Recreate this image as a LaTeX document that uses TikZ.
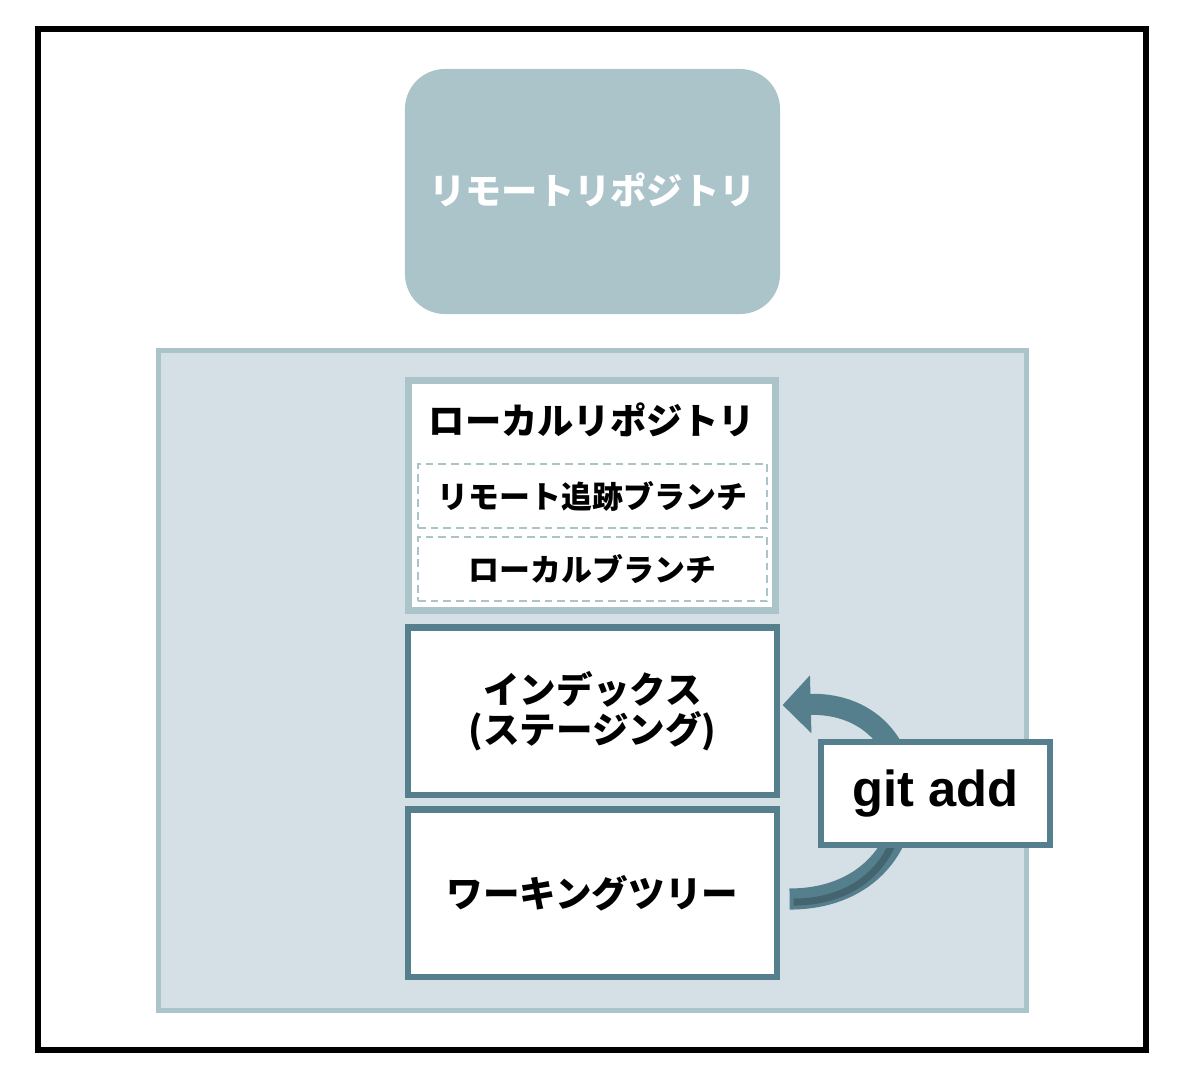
\documentclass[tikz,border=0pt]{standalone}
\usepackage{fontspec}
\usetikzlibrary{arrows.meta,calc}
\newfontfamily\jp{Noto Sans CJK JP}
\newfontfamily\lat{Liberation Sans}
\definecolor{remotefill}{HTML}{AAC4CA}
\definecolor{areafill}{HTML}{D4E0E5}
\definecolor{dark}{HTML}{557F8C}
\definecolor{darker}{HTML}{44656F}
\begin{document}
\begin{tikzpicture}[x=0.025cm,y=-0.025cm,
  remotebox/.style={fill=remotefill,draw=none,rounded corners=1cm,minimum width=9.375cm,minimum height=6.125cm,inner sep=0pt},
  areabox/.style={fill=areafill,draw=remotefill,line width=3.6pt,minimum width=21.675cm,minimum height=16.475cm,inner sep=0pt},
  repobox/.style={fill=white,draw=remotefill,line width=5pt,minimum width=9.15cm,minimum height=5.725cm,inner sep=0pt},
  dashbox/.style={draw=remotefill,dash pattern=on 5.5pt off 3.5pt,line width=1pt,minimum width=8.725cm,minimum height=1.6cm,inner sep=0pt,font=\jp\bfseries\fontsize{22}{24}\selectfont},
  workbox/.style={fill=white,draw=dark,line width=4.3pt,minimum width=9.2cm,minimum height=4.175cm,inner sep=0pt,align=center,font=\jp\bfseries\fontsize{26}{28.5}\selectfont},
  cmdbox/.style={fill=white,draw=dark,line width=4.3pt,minimum width=5.725cm,minimum height=2.575cm,inner sep=0pt,font=\lat\bfseries\fontsize{36}{40}\selectfont},
  flow/.style={draw=dark,line width=15pt,-{Triangle[length=20pt,width=40pt]}}
]
\useasboundingbox (0,0) rectangle (1182,1080);
\draw[line width=3.6pt,black] (38,29) rectangle (1146,1050);

\node[remotebox] (remote) at (592.5,191.5) {};
\node[text=white,font=\jp\bfseries\fontsize{25.8}{28}\selectfont] (remotet) at (592.5,190) {リモートリポジトリ};

\node[areabox] (area) at (592.5,680.5) {};

\node[repobox] (repo) at (592,495.5) {};
\node[font=\jp\bfseries\fontsize{25.8}{28}\selectfont] (repot) at (592,420) {ローカルリポジトリ};
\node[dashbox] (track) at (592.5,496) {リモート追跡ブランチ};
\node[dashbox] (lbranch) at (592.5,569) {ローカルブランチ};

\node[workbox] (idx) at (592.5,711) {インデックス\\(ステージング)};
\node[workbox] (wt) at (592.5,893) {ワーキングツリー};

\draw[flow] ($(wt.east)+(10,6)$) .. controls ($(wt.east)+(160,6)$) and ($(idx.east)+(160,-10)$) .. ($(idx.east)+(3,-6)$);
\begin{scope}
\clip (780,848) rectangle (1000,960);
\draw[darker,line width=5pt] ($(wt.east)+(14,9)$) .. controls ($(wt.east)+(158,9)$) and ($(idx.east)+(158,-8)$) .. ($(idx.east)+(3,-6)$);
\end{scope}

\node[cmdbox] (add) at (935.5,793.5) {git add};
\end{tikzpicture}
\end{document}
